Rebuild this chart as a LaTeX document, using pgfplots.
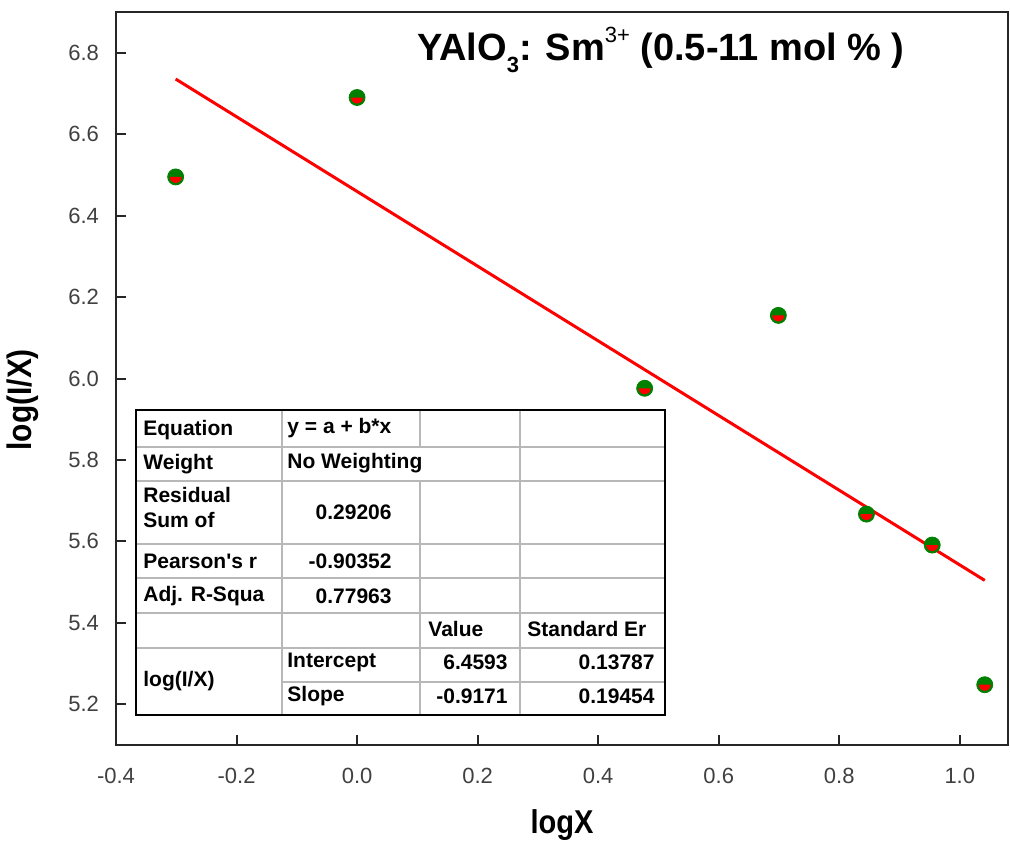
\documentclass[border=0pt]{standalone}
\usepackage{fontspec}
\setmainfont{Liberation Sans}[Ligatures=TeXOff]
\newfontfamily\narrowfont[FakeStretch=0.88]{Liberation Sans}
\usepackage{pgfplots}
\usepackage{pgfplotstable}
\pgfplotsset{compat=1.18}
\usetikzlibrary{plotmarks}

% lower half of a disc, for the two-colour points
\pgfdeclareplotmark{lowhalf}{%
  \pgfpathmoveto{\pgfqpoint{\pgfplotmarksize}{0pt}}%
  \pgfpatharc{0}{-180}{\pgfplotmarksize}%
  \pgfpathclose
  \pgfusepathqfill
}

\definecolor{ptgreen}{RGB}{0,128,0}

\pgfplotstableread{
x        y
-0.30103 6.495
0.00000  6.690
0.47712  5.976
0.69897  6.155
0.84510  5.667
0.95424  5.591
1.04139  5.248
}\datatable

\begin{document}
\begin{tikzpicture}
\useasboundingbox (0,0) rectangle (505pt,420.5pt);
\begin{axis}[
    at={(58pt,48pt)}, anchor=south west,
    width=446pt, height=366.5pt, scale only axis,
    xmin=-0.4, xmax=1.08, ymin=5.1, ymax=6.9,
    xtick={-0.4,-0.2,0,0.2,0.4,0.6,0.8,1.0},
    ytick={5.2,5.4,5.6,5.8,6.0,6.2,6.4,6.6,6.8},
    /pgf/number format/.cd, fixed, fixed zerofill, precision=1, assume math mode=true,
    /pgfplots/.cd,
    tick pos=left, tick align=inside, major tick length=5pt,
    tick style={black!85, line width=1pt},
    axis line style={line width=1pt, black!85},
    tick label style={font=\fontsize{11}{13}\selectfont, color=black!75},
    xticklabel style={yshift=-8pt},
    yticklabel style={xshift=-5pt},
    xlabel={\bfseries logX},
    ylabel={\bfseries log(I/X)},
    xlabel style={at={(axis description cs:0.5,-0.109)}, anchor=center,
        font=\narrowfont\fontsize{16.5}{18}\selectfont},
    ylabel style={at={(axis description cs:-0.104,0.471)}, anchor=center,
        font=\narrowfont\fontsize{17}{19}\selectfont},
]
\addplot[only marks, mark=*, mark size=4pt, ptgreen, mark options={draw=ptgreen, fill=ptgreen}]
    table[x=x, y=y] {\datatable};
\addplot[only marks, mark=lowhalf, mark size=3pt, red]
    table[x=x, y=y] {\datatable};
\addplot[red, line width=1.5pt] coordinates {(-0.30103,6.7354) (1.04139,5.5042)};
\end{axis}

\begin{scope}[x=0.5pt, y=-0.5pt, shift={(0pt,420.5pt)}]
% title
\node[font=\bfseries\fontsize{19}{22}\selectfont, anchor=center] at (661,50)
  {YAlO\raisebox{-0.6ex}{\fontsize{11}{11}\selectfont 3}: Sm\raisebox{0.85ex}{\mdseries\fontsize{11}{11}\selectfont 3+} (0.5-11 mol \% )};

% fit table
\fill[white] (136,410) rectangle (665,715);
\begin{scope}[draw=black!28, line width=1pt]
  \foreach \r in {447,481,544,578,613,648} \draw (136,\r) -- (665,\r);
  \draw (282,682) -- (665,682);
  \draw (282,410) -- (282,715);
  \draw (420,410) -- (420,447);
  \draw (420,481) -- (420,715);
  \draw (520,410) -- (520,715);
\end{scope}
\draw[black, line width=1pt] (136,410) rectangle (665,715);

\begin{scope}[font=\bfseries\fontsize{10.5}{12}\selectfont, inner sep=0pt]
  \node[anchor=west] at (143,430) {Equation};
  \node[anchor=west] at (143,464) {Weight};
  \node[anchor=west] at (143,495) {Residual};
  \node[anchor=west] at (143,520) {Sum of};
  \node[anchor=west] at (143,561) {Pearson's r};
  \node[anchor=west] at (143,596) {Adj. R-Squa};
  \node[anchor=west] at (143,681) {log(I/X)};

  \node[anchor=west] at (287,428) {y = a + b*x};
  \node[anchor=west] at (287,463) {No Weighting};
  \node[anchor=east] at (392,512) {0.29206};
  \node[anchor=east] at (392,561) {-0.90352};
  \node[anchor=east] at (392,596) {0.77963};
  \node[anchor=west] at (287,662) {Intercept};
  \node[anchor=west] at (287,696) {Slope};

  \node[anchor=west] at (428,629) {Value};
  \node[anchor=east] at (508,662) {6.4593};
  \node[anchor=east] at (508,696) {-0.9171};

  \node[anchor=west] at (527,629) {Standard Er};
  \node[anchor=east] at (655,662) {0.13787};
  \node[anchor=east] at (655,696) {0.19454};
\end{scope}
\end{scope}
\end{tikzpicture}
\end{document}
